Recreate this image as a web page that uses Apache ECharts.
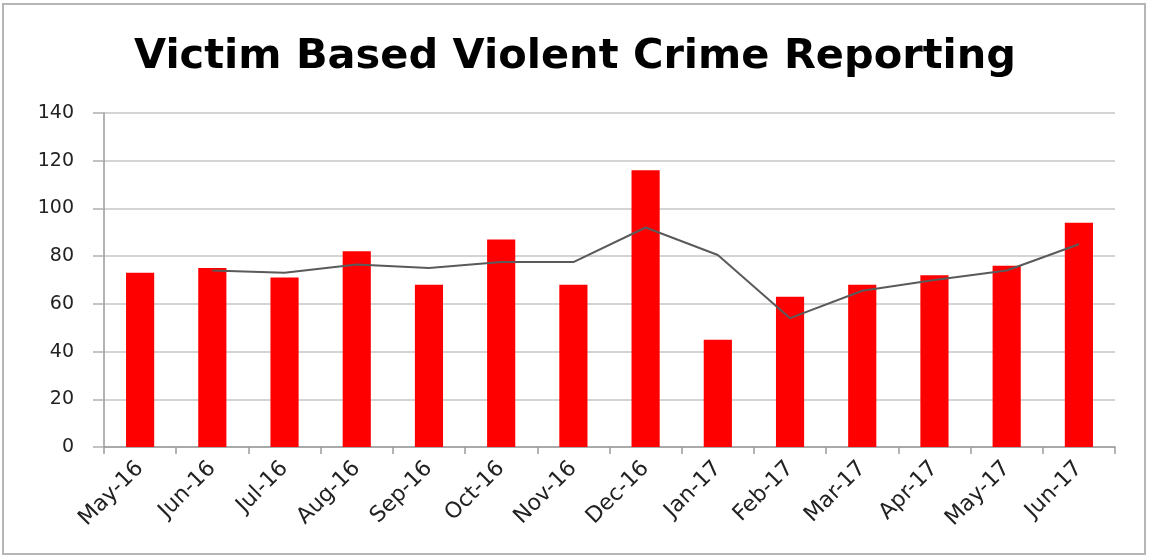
<!DOCTYPE html>
<html>
<head>
<meta charset="utf-8">
<script src="https://cdn.jsdelivr.net/npm/echarts@6/dist/echarts.min.js"></script>
<style>
html,body{margin:0;padding:0;background:#fff;}
#chart{width:1150px;height:559px;}
</style>
</head>
<body>
<div id="chart"></div>
<script>
const categories = ['May-16','Jun-16','Jul-16','Aug-16','Sep-16','Oct-16','Nov-16','Dec-16','Jan-17','Feb-17','Mar-17','Apr-17','May-17','Jun-17'];
const crimeCounts = [73, 75, 71, 82, 68, 87, 68, 116, 45, 63, 68, 72, 76, 94];
const trendValues = [null, 74, 73, 76.5, 75, 77.5, 77.5, 92, 80.5, 54, 65.5, 70, 74, 85];
const yTicks = {min: 0, max: 140, interval: 20};
const titleText = 'Victim Based Violent Crime Reporting';

const chart = echarts.init(document.getElementById('chart'));
chart.setOption({
  animation: false,
  backgroundColor: '#fff',
  graphic: [{
    type: 'rect',
    shape: {x: 3, y: 4, width: 1142, height: 550},
    style: {fill: 'none', stroke: '#b5b5b5', lineWidth: 2},
    silent: true, z: -1
  }],
  title: {
    text: titleText,
    left: 'center',
    top: 31,
    textStyle: {fontFamily: 'DejaVu Sans', fontWeight: 'bold', fontSize: 41.5, color: '#000'}
  },
  grid: {left: 104, right: 35, top: 113, bottom: 112},
  xAxis: {
    type: 'category',
    data: categories,
    boundaryGap: true,
    axisLine: {lineStyle: {color: '#9a9a9a', width: 1.5}},
    axisTick: {show: true, length: 7, lineStyle: {color: '#9a9a9a', width: 1.5}},
    axisLabel: {rotate: 45, fontFamily: 'DejaVu Sans', fontSize: 22, color: '#222', margin: 18, interval: 0}
  },
  yAxis: {
    type: 'value',
    min: yTicks.min, max: yTicks.max, interval: yTicks.interval,
    axisLine: {show: true, lineStyle: {color: '#9a9a9a', width: 1.5}},
    axisTick: {show: true, length: 11, lineStyle: {color: '#b0b0b0', width: 1.5}},
    axisLabel: {fontFamily: 'DejaVu Sans', fontSize: 19, color: '#222', margin: 30},
    splitLine: {lineStyle: {color: '#c6c6c6', width: 1.5}}
  },
  series: [{
    type: 'bar',
    data: crimeCounts,
    barWidth: '39%',
    itemStyle: {color: '#ff0000'}
  }, {
    type: 'line',
    data: trendValues,
    symbol: 'none',
    lineStyle: {color: '#5a5a5a', width: 2},
    z: 5
  }]
});
</script>
</body>
</html>
